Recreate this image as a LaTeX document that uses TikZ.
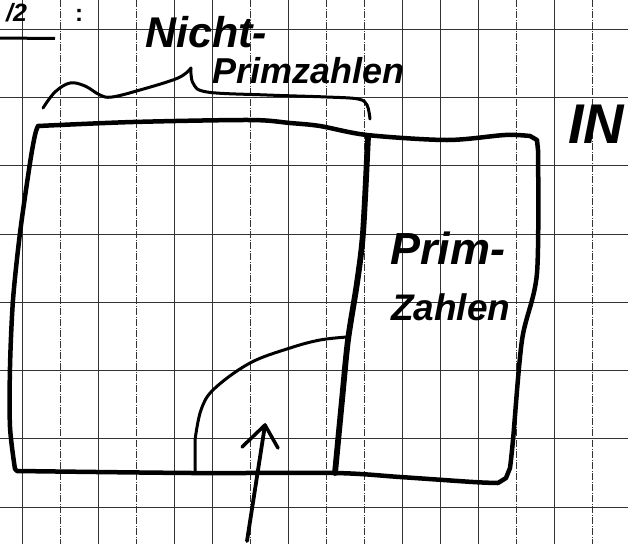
\documentclass[tikz,border=0pt]{standalone}
\usepackage{fontspec}
\setmainfont{Liberation Sans}
\begin{document}
\begin{tikzpicture}[x=1pt,y=-1pt,
  gridh/.style={black!80,line width=0.7pt},
  gridv/.style={black!80,line width=0.7pt},
  gridvd/.style={black!80,line width=0.7pt,dash pattern=on 7pt off 1.5pt on 1pt off 1.5pt},
  outline/.style={line width=4.5pt,line join=round,line cap=round},
  divider/.style={line width=5.8pt,line cap=round},
  thinpen/.style={line width=3pt,line cap=round,line join=round},
  hand/.style={inner sep=0pt,font=\bfseries\itshape}]
\useasboundingbox (0,0) rectangle (628,544);
\clip (0,0) rectangle (628,544);
\fill[white] (0,0) rectangle (628,544);
% grid
\foreach \y in {29,97.3,165.6,233.9,302.2,370.5,438.8,507.1}
  \draw[gridh] (0,\y) -- (628,\y);
\foreach \x in {22.5,98.5,174.5,212.5,288.5,402.5,440.5,478.5,554.5}
  \draw[gridv] (\x,0) -- (\x,544);
\foreach \x in {60.5,136.5,250.5,326.5,364.5,516.5,592.5}
  \draw[gridvd] (\x,0) -- (\x,544);
% heading fragment
\node[hand,font=\fontsize{25}{25}\selectfont\bfseries\itshape,anchor=base west] (head) at (6,21) {/2};
\node[hand,font=\fontsize{24}{24}\selectfont\bfseries,anchor=base] (colon) at (79,21) {:};
\draw[line width=3pt] (0,38) -- (55,38.5);
% labels
\node[hand,font=\fontsize{43}{43}\selectfont\bfseries\itshape,anchor=base west] (nicht) at (145,47) {Nicht-};
\node[hand,font=\fontsize{36}{36}\selectfont\bfseries\itshape,anchor=base west] (primz) at (212,83) {Primzahlen};
\node[hand,font=\fontsize{45}{45}\selectfont\bfseries\itshape,anchor=base west] (prim) at (390,264) {Prim-};
\node[hand,font=\fontsize{37}{37}\selectfont\bfseries\itshape,anchor=base west] (zahlen) at (391,320) {Zahlen};
\node[hand,font=\fontsize{56}{56}\selectfont\bfseries\itshape,anchor=base west] (nat) at (568,143) {IN};
% brace
\draw[thinpen] plot[smooth,tension=0.6] coordinates {(43,108) (55,92) (70,83) (85,86) (100,95) (112,97) (140,90) (178,78) (191,68)};
\draw[thinpen] plot[smooth,tension=0.6] coordinates {(191,68) (193,83) (207,92) (267,95) (327,97) (358,99) (367,105) (370,119)};
% main outline
\draw[outline] plot[smooth,tension=0.5] coordinates {(38,126) (133,122) (250,120) (290,123) (320,126) (367,135) (447,140) (505,135) (530,136)}
  -- (537,140) -- (538,150)
  plot[smooth,tension=0.5] coordinates {(538,150) (537,273) (522,340) (513,440) (510,468)}
  -- (506,478) -- (498,483)
  plot[smooth,tension=0.5] coordinates {(498,483) (473,482) (400,477) (335,473) (193,473) (17,471)}
  -- (15,469)
  plot[smooth,tension=0.5] coordinates {(15,469) (10,427) (10,367) (13,300) (20,233) (30,163) (35,135) (38,126)};
% divider
\draw[divider] plot[smooth,tension=0.5] coordinates {(368,137) (363,233) (357,283) (348,340) (342,400) (335,473)};
% arc
\draw[thinpen] (195,472) -- (195,440) plot[smooth,tension=0.6] coordinates {(195,440) (201,410) (214,389) (250,363) (290,348) (320,340) (347,337)};
% arrow
\coordinate (tail) at (247,541);
\coordinate (tip) at (265,425);
\coordinate (armL) at (242,447);
\coordinate (armR) at (278,448);
\draw[line width=3.8pt,line cap=round] (tail) -- (tip);
\draw[line width=3.5pt,line cap=round,line join=round] (armL) -- (tip) -- (armR);
\end{tikzpicture}
\end{document}
